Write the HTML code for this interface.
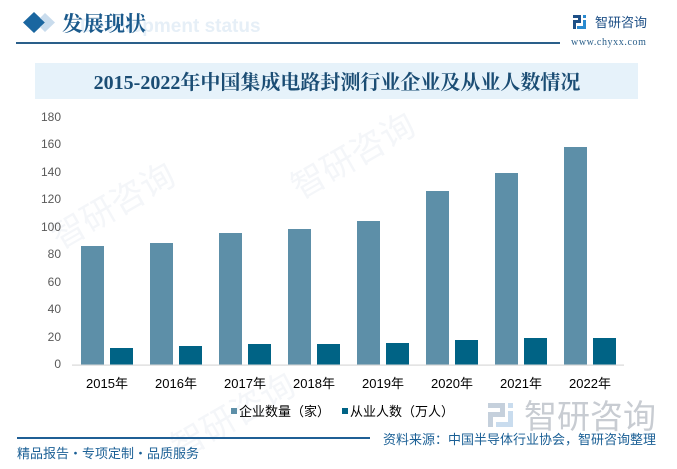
<!DOCTYPE html>
<html><head><meta charset="utf-8">
<style>
html,body{margin:0;padding:0;background:#fff;}
svg{display:block;}
text{font-family:"Liberation Sans","Noto Sans CJK SC",sans-serif;}
</style></head>
<body>
<svg width="677" height="469" viewBox="0 0 677 469" xmlns="http://www.w3.org/2000/svg">
<rect width="677" height="469" fill="#fff"/>
<!-- faint watermarks -->
<g fill="#f4f6f9">
  <text x="60" y="250" font-size="34" transform="rotate(-30 60 250)">智研咨询</text>
  <text x="300" y="200" font-size="34" transform="rotate(-30 300 200)">智研咨询</text>
  <text x="180" y="460" font-size="34" transform="rotate(-30 180 460)">智研咨询</text>
</g>
<!-- header -->
<text x="80" y="32" font-size="19" font-weight="bold" fill="#e6eff7">Development status</text>
<polygon points="34,12 45,22.5 34,33 23,22.5" fill="#1a66a0"/>
<polygon points="45,13 55,22.5 45,32 40,27 45,22.5 40,18" fill="#c9dced"/>
<text x="62" y="31" font-size="21" font-weight="bold" fill="#1b5a8c" style="font-family:'Noto Serif CJK SC',serif">发展现状</text>
<rect x="16" y="42" width="544" height="2" fill="#2a5f8a"/>
<!-- top-right logo -->
<g>
  <rect x="573" y="15" width="8" height="3" fill="#1d4f86"/>
  <rect x="578" y="15" width="3" height="8" fill="#1d4f86"/>
  <rect x="573" y="20" width="6" height="3" fill="#1d4f86"/>
  <rect x="573" y="20" width="3" height="9" fill="#1d4f86"/>
  <rect x="583" y="15" width="3" height="3" fill="#2a8ad0"/>
  <rect x="583" y="20" width="3" height="9" fill="#2a8ad0"/>
  <rect x="577" y="26" width="9" height="3" fill="#2a8ad0"/>
</g>
<text x="595" y="27" font-size="13" fill="#1d4f86">智研咨询</text>
<text x="571" y="45" font-size="10" fill="#2a5f8a" style="font-family:'Liberation Serif',serif" letter-spacing="0.6">www.chyxx.com</text>
<!-- title band -->
<rect x="35" y="63" width="603" height="36" fill="#e6f2fa"/>
<text x="337" y="89" font-size="20" font-weight="bold" text-anchor="middle" fill="#1b4d74" style="font-family:'Liberation Serif','Noto Serif CJK SC',serif">2015-2022年中国集成电路封测行业企业及从业人数情况</text>
<!-- y axis labels -->
<g font-size="12" fill="#595959" text-anchor="end">
  <text x="61" y="368">0</text>
  <text x="61" y="341">20</text>
  <text x="61" y="313">40</text>
  <text x="61" y="286">60</text>
  <text x="61" y="258">80</text>
  <text x="61" y="231">100</text>
  <text x="61" y="203">120</text>
  <text x="61" y="176">140</text>
  <text x="61" y="148">160</text>
  <text x="61" y="121">180</text>
</g>
<!-- bars -->
<g fill="#5d8fa8">
  <rect x="81" y="246" width="23" height="119"/>
  <rect x="150" y="243" width="23" height="122"/>
  <rect x="219" y="233" width="23" height="132"/>
  <rect x="288" y="229" width="23" height="136"/>
  <rect x="357" y="221" width="23" height="144"/>
  <rect x="426" y="191" width="23" height="174"/>
  <rect x="495" y="173" width="23" height="192"/>
  <rect x="564" y="147" width="23" height="218"/>
</g>
<g fill="#006385">
  <rect x="110" y="348" width="23" height="17"/>
  <rect x="179" y="346" width="23" height="19"/>
  <rect x="248" y="344" width="23" height="21"/>
  <rect x="317" y="344" width="23" height="21"/>
  <rect x="386" y="343" width="23" height="22"/>
  <rect x="455" y="340" width="23" height="25"/>
  <rect x="524" y="338" width="23" height="27"/>
  <rect x="593" y="338" width="23" height="27"/>
</g>
<rect x="72" y="364.5" width="552" height="1.2" fill="#d9d9d9"/>
<!-- x labels -->
<g font-size="13" fill="#000" text-anchor="middle">
  <text x="107" y="388">2015年</text>
  <text x="176" y="388">2016年</text>
  <text x="245" y="388">2017年</text>
  <text x="314" y="388">2018年</text>
  <text x="383" y="388">2019年</text>
  <text x="452" y="388">2020年</text>
  <text x="521" y="388">2021年</text>
  <text x="590" y="388">2022年</text>
</g>
<!-- legend -->
<rect x="231" y="408" width="6" height="6" fill="#5d8fa8"/>
<text x="239" y="416" font-size="13" fill="#000">企业数量（家）</text>
<rect x="342" y="408" width="6" height="6" fill="#006385"/>
<text x="350" y="416" font-size="13" fill="#000">从业人数（万人）</text>
<!-- big watermark logo bottom right -->
<g>
  <rect x="488" y="403" width="17" height="5" fill="#c5d0dc"/>
  <rect x="500" y="403" width="5" height="14" fill="#c5d0dc"/>
  <rect x="488" y="412" width="14" height="5" fill="#c5d0dc"/>
  <rect x="488" y="412" width="5" height="15" fill="#c5d0dc"/>
  <rect x="508" y="403" width="5" height="5" fill="#c9dcee"/>
  <rect x="508" y="411" width="5" height="16" fill="#c9dcee"/>
  <rect x="496" y="422" width="17" height="5" fill="#c9dcee"/>
</g>
<text x="524" y="428" font-size="33" fill="#c8ccd2">智研咨询</text>
<!-- source -->
<rect x="17" y="437" width="353" height="2" fill="#1f5f95"/>
<text x="383" y="444" font-size="13" fill="#1a5f95">资料来源：中国半导体行业协会，智研咨询整理</text>
<text x="17" y="458" font-size="13" fill="#1a5f95">精品报告・专项定制・品质服务</text>
</svg>
</body></html>
